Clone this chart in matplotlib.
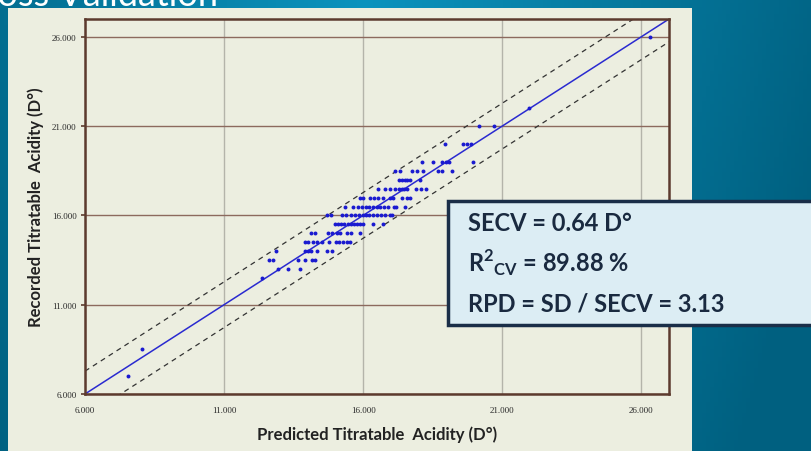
import numpy as np
import matplotlib
matplotlib.use("Agg")
import matplotlib.pyplot as plt
from matplotlib.patches import Rectangle

plt.rcParams['mathtext.fontset'] = 'custom'
plt.rcParams['mathtext.rm'] = 'Lato:bold'
plt.rcParams['mathtext.bf'] = 'Lato:bold'

# predicted (x) and recorded (y) titratable acidity
pred = [7.54, 8.04,
        12.36,
        12.93, 13.29, 13.72,
        12.63, 12.77, 13.67, 13.91, 14.15, 14.27,
        12.86, 13.91, 14.01, 14.13, 14.36, 14.69, 14.87,
        13.91, 14.03, 14.21, 14.36, 14.51, 14.78, 15.03, 15.14, 15.29, 15.41, 15.53,
        14.12, 14.27, 14.74, 14.87, 15.05, 15.17, 15.41, 15.55, 15.89,
        15.0, 15.11, 15.22, 15.33, 15.44, 15.55, 15.66, 15.77, 15.88, 16.0, 16.37, 16.73,
        14.70, 14.85, 15.25, 15.40, 15.55, 15.70, 15.85, 16.0, 16.1, 16.2, 16.35, 16.5, 16.65, 16.8, 16.97, 17.05,
        15.35, 15.62, 15.8, 15.95, 16.1, 16.2, 16.35, 16.5, 16.62, 16.75, 16.9, 17.1, 17.2, 17.52,
        15.89, 16.0, 16.25, 16.39, 16.55, 16.73, 16.97, 17.09, 17.39, 17.57, 17.69,
        16.55, 16.8, 16.95, 17.16, 17.28, 17.4, 17.48, 17.57, 17.9, 18.09, 18.27,
        17.3, 17.39, 17.5, 17.59, 17.69, 18.03,
        17.15, 17.33, 17.75, 17.93, 18.17, 18.68, 18.83, 19.19,
        18.12, 18.53, 18.85, 18.97, 19.10, 19.97,
        18.95, 19.59, 19.72, 19.88,
        20.17, 20.69,
        21.97, 26.32]
rec = [7.0, 8.5,
       12.5,
       13.0, 13.0, 13.0,
       13.5, 13.5, 13.5, 13.5, 13.5, 13.5,
       14.0, 14.0, 14.0, 14.0, 14.0, 14.0, 14.0,
       14.5, 14.5, 14.5, 14.5, 14.5, 14.5, 14.5, 14.5, 14.5, 14.5, 14.5,
       15.0, 15.0, 15.0, 15.0, 15.0, 15.0, 15.0, 15.0, 15.0,
       15.5, 15.5, 15.5, 15.5, 15.5, 15.5, 15.5, 15.5, 15.5, 15.5, 15.5, 15.5,
       16.0, 16.0, 16.0, 16.0, 16.0, 16.0, 16.0, 16.0, 16.0, 16.0, 16.0, 16.0, 16.0, 16.0, 16.0, 16.0,
       16.5, 16.5, 16.5, 16.5, 16.5, 16.5, 16.5, 16.5, 16.5, 16.5, 16.5, 16.5, 16.5, 16.5,
       17.0, 17.0, 17.0, 17.0, 17.0, 17.0, 17.0, 17.0, 17.0, 17.0, 17.0,
       17.5, 17.5, 17.5, 17.5, 17.5, 17.5, 17.5, 17.5, 17.5, 17.5, 17.5,
       18.0, 18.0, 18.0, 18.0, 18.0, 18.0,
       18.5, 18.5, 18.5, 18.5, 18.5, 18.5, 18.5, 18.5,
       19.0, 19.0, 19.0, 19.0, 19.0, 19.0,
       20.0, 20.0, 20.0, 20.0,
       21.0, 21.0,
       22.0, 26.0]

secv = 0.64
lims = [6, 27]
ticks = [6, 11, 16, 21, 26]
tick_labels = ['6.000', '11.000', '16.000', '21.000', '26.000']
stats = ['SECV = 0.64 D°', r'$\mathrm{R}^{2}{}_{\mathrm{CV}}$ = 89.88 %', 'RPD = SD / SECV = 3.13']

W, H = 811, 452
fig = plt.figure(figsize=(W / 100, H / 100), dpi=100)

# slide background
bg = fig.add_axes([0, 0, 1, 1], zorder=-2)
xx, yy = np.meshgrid(np.linspace(0, 1, 200), np.linspace(0, 1, 120))
t = np.clip(np.abs(xx - 0.45) * 1.6 + yy * 0.25, 0, 1)
c1 = np.array([0x0b, 0x93, 0xbe]) / 255
c2 = np.array([0x00, 0x60, 0x80]) / 255
img = c1[None, None, :] * (1 - t[..., None]) + c2[None, None, :] * t[..., None]
bg.imshow(img, aspect='auto', extent=[0, 1, 0, 1], origin='upper')
bg.set_xlim(0, 1)
bg.set_ylim(0, 1)
bg.axis('off')

fig.text(218 / W, 1 - 6 / H, 'Cross Validation', color='white', fontsize=26,
         family='Lato', ha='right', va='baseline', zorder=-1)

panel = Rectangle((8 / W, 0), 684 / W, (H - 9) / H, transform=fig.transFigure,
                  facecolor='#eceee0', edgecolor='none', zorder=-1)
fig.patches.append(panel)

ax = fig.add_axes([85 / W, 57 / H, 584 / W, 375 / H], zorder=0)
ax.set_facecolor('#eceee0')
ax.set_xlim(lims)
ax.set_ylim(lims)
ax.set_xticks(ticks)
ax.set_yticks(ticks)
ax.set_xticklabels(tick_labels, family='Liberation Serif', fontsize=6.5, color='#2a2a2a')
ax.set_yticklabels(tick_labels, family='Liberation Serif', fontsize=6.5, color='#2a2a2a')
ax.tick_params(axis='x', length=0, pad=9)
ax.tick_params(axis='y', length=3, width=1.2, color='#5c3a2e', pad=3)
for s in ax.spines.values():
    s.set_color('#5c3a2e')
    s.set_linewidth(1.8)
ax.grid(axis='y', color='#8c6a5e', lw=1)
ax.grid(axis='x', color='#b4b4aa', lw=1)
ax.set_axisbelow(True)

ax.plot(lims, lims, color='#2a2ad0', lw=1.1)
ax.plot(lims, [lims[0] + 2 * secv, lims[1] + 2 * secv], color='#333333', lw=0.9, ls=(0, (4, 3.5)))
ax.plot(lims, [lims[0] - 2 * secv, lims[1] - 2 * secv], color='#333333', lw=0.9, ls=(0, (4, 3.5)))
ax.scatter(pred, rec, s=8, color='#1a1ad0', zorder=3, linewidths=0)

ax.set_xlabel('Predicted Titratable  Acidity (D°)', family='Lato', fontweight='bold',
              fontsize=12, color='#222222', labelpad=8)
ax.set_ylabel('Recorded Titratable  Acidity (D°)', family='Lato', fontweight='bold',
              fontsize=12, color='#222222', labelpad=6)

box = Rectangle((448 / W, 1 - 326 / H), 380 / W, 124 / H, transform=fig.transFigure,
                facecolor='#dcedf4', edgecolor='#1a2e48', lw=2.5, zorder=5, clip_on=False)
fig.patches.append(box)
for i, s in enumerate(stats):
    fig.text(468 / W, 1 - (231 + 40.5 * i) / H, s, family='Lato', fontweight='bold',
             fontsize=17, color='#1a2a40', va='baseline', ha='left', zorder=6)

fig.savefig('out.png', dpi=100)
